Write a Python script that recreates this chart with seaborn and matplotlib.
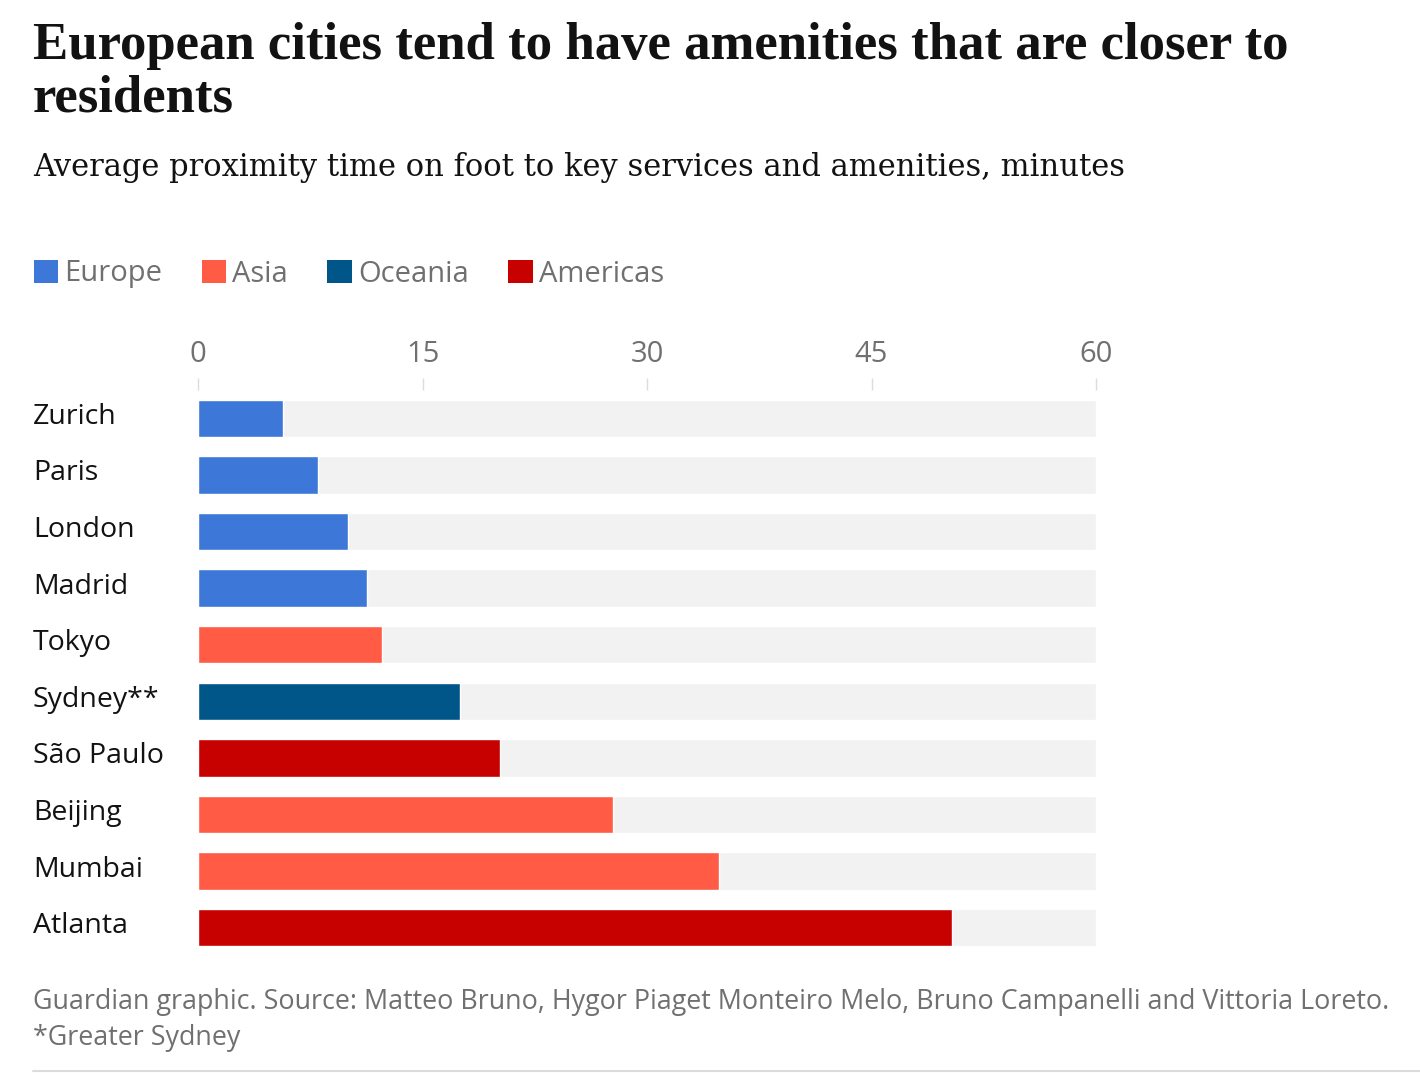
import matplotlib.pyplot as plt
import matplotlib.transforms as mtransforms
import seaborn as sns
import pandas as pd
from matplotlib.patches import Patch
from matplotlib.lines import Line2D

# ------------------- data -------------------
cities = ['Zurich', 'Paris', 'London', 'Madrid', 'Tokyo', 'Sydney**',
          'São Paulo', 'Beijing', 'Mumbai', 'Atlanta']
minutes = [5.7, 8.0, 10.0, 11.3, 12.3, 17.5, 20.2, 27.7, 34.8, 50.4]
regions = ['Europe', 'Europe', 'Europe', 'Europe', 'Asia', 'Oceania',
           'Americas', 'Asia', 'Asia', 'Americas']
region_order = ['Europe', 'Asia', 'Oceania', 'Americas']
region_colors = ['#3d78d8', '#ff5b45', '#005689', '#c70000']
x_ticks = [0, 15, 30, 45, 60]
x_max = 60

df = pd.DataFrame({'city': cities, 'minutes': minutes, 'region': regions})
df['full'] = x_max
palette = dict(zip(region_order, region_colors))

sns.set_theme(style='white')
sans = ['Open Sans', 'DejaVu Sans']
serif = ['Liberation Serif', 'DejaVu Serif']

fig = plt.figure(figsize=(14.2, 10.73), dpi=100)
ax = fig.add_axes([198 / 1420, 1 - 956 / 1073, (1096 - 198) / 1420, (956 - 390) / 1073])

# grey background track
sns.barplot(data=df, x='full', y='city', color='#f2f2f2', width=0.66,
            ax=ax, order=cities, saturation=1)
# coloured bars
sns.barplot(data=df, x='minutes', y='city', hue='region', hue_order=region_order,
            palette=palette, dodge=False, width=0.66, ax=ax, order=cities,
            saturation=1, legend=False)

ax.set_xlim(0, x_max)
ax.set_ylim(len(cities) - 0.5, -0.5)
ax.set_xlabel('')
ax.set_ylabel('')
for s in ax.spines.values():
    s.set_visible(False)

ax.xaxis.tick_top()
ax.set_xticks(x_ticks)
ax.set_xticklabels([str(t) for t in x_ticks], fontfamily=sans, fontsize=21, color='#707070')
ax.tick_params(axis='x', length=9, width=1, color='#dcdcdc', pad=6, direction='out')
ax.tick_params(axis='y', length=0, pad=0)
ax.set_yticklabels(cities, fontfamily=sans, fontsize=20.5, color='#121212', ha='left')
shift = mtransforms.ScaledTranslation(0, 5 / 100, fig.dpi_scale_trans)
for lab in ax.get_yticklabels():
    lab.set_x(-165 / 898)
    lab.set_transform(lab.get_transform() + shift)

# titles
fig.text(33 / 1420, 1 - 22 / 1073, 'European cities tend to have amenities that are closer to\nresidents',
         fontfamily=serif, fontweight='bold', fontsize=38, color='#121212',
         va='top', ha='left', linespacing=1.12)
fig.text(33 / 1420, 1 - 152 / 1073,
         'Average proximity time on foot to key services and amenities, minutes',
         fontfamily=['DejaVu Serif'], fontsize=22, color='#121212', va='top', ha='left')

# legend
handles = [Patch(facecolor=c, edgecolor='none') for c in region_colors]
leg = fig.legend(handles, region_order, loc='center left',
                 bbox_to_anchor=(22 / 1420, 1 - 274 / 1073), ncol=4, frameon=False,
                 prop={'family': sans, 'size': 21}, handlelength=0.85, handleheight=0.85,
                 handletextpad=0.2, columnspacing=1.35, borderaxespad=0)
for t in leg.get_texts():
    t.set_color('#707070')

# footer
fig.text(33 / 1420, 1 - 988 / 1073,
         'Guardian graphic. Source: Matteo Bruno, Hygor Piaget Monteiro Melo, Bruno Campanelli and Vittoria Loreto.\n*Greater Sydney',
         fontfamily=sans, fontsize=19.4, color='#707070', va='top', ha='left', linespacing=1.4)
fig.add_artist(Line2D([33 / 1420, 1], [1 - 1071 / 1073] * 2, color='#dcdcdc', lw=1.5))

fig.savefig('out.png', dpi=100, facecolor='white')
